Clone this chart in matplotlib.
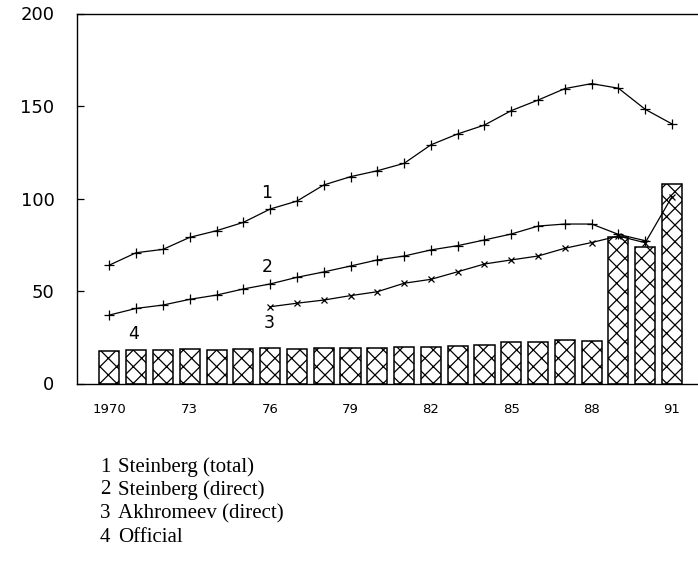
import matplotlib
matplotlib.use("Agg")
import matplotlib.pyplot as plt

years = [1970, 1971, 1972, 1973, 1974, 1975, 1976, 1977, 1978, 1979, 1980,
         1981, 1982, 1983, 1984, 1985, 1986, 1987, 1988, 1989, 1990, 1991]

official = [17.7, 18.1, 18.1, 18.6, 18.1, 18.8, 19.0, 18.8, 19.0, 19.1, 19.3,
            19.5, 19.7, 20.3, 20.6, 22.6, 22.6, 23.3, 23.0, 79.4, 73.6, 107.8]

steinberg_total = [64, 70.7, 72.5, 79, 82.6, 87.1, 94.3, 98.6, 107.3, 111.8, 115,
                   119, 129, 134.9, 139.7, 147.5, 153.2, 159.4, 162.1, 159.6, 148.2, 140.3]

years_direct = years[:21]
steinberg_direct = [37, 40.6, 42.4, 45.5, 47.8, 51.1, 53.8, 57.4, 60.3, 63.5, 66.8,
                    68.9, 72.2, 74.5, 77.6, 80.8, 85.1, 86.2, 86.2, 80.6, 77.2]

years_akh = years[6:]
akhromeev_direct = [41.5, 43.4, 45.1, 47.5, 49.6, 54.2, 56.3, 60.4, 64.6, 66.8,
                    68.9, 73.1, 76.2, 79.7, 76.1, 101]

xtick_years = [1970, 1973, 1976, 1979, 1982, 1985, 1988, 1991]
xtick_labels = ["1970", "73", "76", "79", "82", "85", "88", "91"]
yticks = [0, 50, 100, 150, 200]

series_labels = ["1", "2", "3", "4"]
label_pos = [(1975.87, 102.8), (1975.9, 62.8), (1975.96, 32.9), (1970.92, 26.8)]

legend_lines = ["Steinberg (total)", "Steinberg (direct)", "Akhromeev (direct)", "Official"]

plt.rcParams['hatch.linewidth'] = 0.9

fig = plt.figure(figsize=(6.98, 5.67), dpi=100)
ax = fig.add_axes([76.7 / 698, 1 - 383.5 / 567, (698 - 76.7) / 698, (383.5 - 13.5) / 567])

ax.bar(years, official, width=0.75, color="white", edgecolor="black",
       linewidth=1.1, hatch="xx", zorder=2)

ax.plot(years, steinberg_total, color="black", lw=0.9, marker="+", ms=7, mew=0.9, zorder=3)
ax.plot(years_direct, steinberg_direct, color="black", lw=0.9, marker="+", ms=7, mew=0.9, zorder=3)
ax.plot(years_akh, akhromeev_direct, color="black", lw=0.9, marker="x", ms=5, mew=0.9, zorder=3)

for lab, (xx, yy) in zip(series_labels, label_pos):
    ax.text(xx, yy, lab, ha="center", va="center", fontsize=12.5, color="black",
            family="DejaVu Sans")

ax.set_xlim(1968.78, 1991.97)
ax.set_ylim(0, 200)

ax.set_yticks(yticks)
ax.set_yticklabels([str(v) for v in yticks], fontsize=13, family="DejaVu Sans")
ax.tick_params(axis="y", direction="in", length=5, width=0.9, pad=16, left=True, right=False)

ax.set_xticks(xtick_years)
ax.set_xticklabels(xtick_labels, fontsize=9.5, family="DejaVu Sans")
ax.tick_params(axis="x", length=0, pad=14)

for side in ["left", "bottom", "top"]:
    ax.spines[side].set_linewidth(1.0)
ax.spines["right"].set_visible(False)

leg_y = [467, 490, 514, 538]
for i, (num, txt) in enumerate(zip(series_labels, legend_lines)):
    y = 1 - leg_y[i] / 567
    fig.text(100 / 698, y, num, ha="left", va="center", fontsize=15,
             family="Liberation Serif")
    fig.text(118 / 698, y, txt, ha="left", va="center", fontsize=15,
             family="Liberation Serif")

fig.savefig("out.png", dpi=100)
